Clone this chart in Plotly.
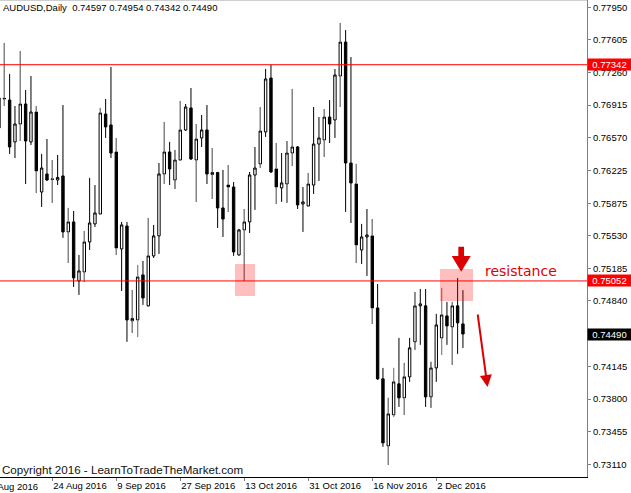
import plotly.graph_objects as go

# ---- data (daily AUDUSD bars, 10 Aug 2016 .. 9 Dec 2016, index 0 = 10 Aug) ----
OPEN = [0.76672, 0.76979, 0.76968, 0.76524, 0.76714, 0.76926, 0.76524, 0.76841, 0.75994, 0.76185,
        0.76127, 0.76121, 0.76164, 0.75571, 0.75677, 0.75052, 0.75147, 0.75465, 0.75656, 0.75761,
        0.76820, 0.76704, 0.76418, 0.75391, 0.75634, 0.74629, 0.74639, 0.75116, 0.74788, 0.75317,
        0.75529, 0.76185, 0.76418, 0.76121, 0.76333, 0.76651, 0.76884, 0.76333, 0.76566, 0.76651,
        0.76180, 0.76201, 0.75825, 0.76068, 0.76047, 0.75327, 0.75592, 0.75677, 0.76174, 0.76291,
        0.76630, 0.77201, 0.76238, 0.76037, 0.76079, 0.76407, 0.76471, 0.75867, 0.75846, 0.76068,
        0.76502, 0.76545, 0.76788, 0.76757, 0.77222, 0.77582, 0.76301, 0.76079, 0.75380, 0.75518,
        0.75529, 0.74766, 0.74015, 0.73305, 0.73634, 0.73962, 0.73814, 0.74036, 0.74407, 0.74788,
        0.74788, 0.73824, 0.74131, 0.74449, 0.74682, 0.74565, 0.74788, 0.74597]
HIGH = [0.77021, 0.77572, 0.77244, 0.76905, 0.77487, 0.77074, 0.77222, 0.76905, 0.76397, 0.76555,
        0.76333, 0.76386, 0.76915, 0.75825, 0.75793, 0.75327, 0.75581, 0.76143, 0.76068, 0.76884,
        0.76979, 0.77318, 0.76566, 0.75677, 0.75677, 0.74956, 0.75221, 0.75264, 0.75719, 0.75645,
        0.76301, 0.76735, 0.76524, 0.76439, 0.76958, 0.76926, 0.77095, 0.76714, 0.76810, 0.76915,
        0.76460, 0.76206, 0.76227, 0.76280, 0.76100, 0.75603, 0.75814, 0.76206, 0.76471, 0.76894,
        0.77297, 0.77342, 0.76513, 0.76407, 0.76534, 0.77085, 0.76481, 0.76047, 0.76195, 0.76894,
        0.76788, 0.76873, 0.76968, 0.77297, 0.77784, 0.77709, 0.77424, 0.76291, 0.75656, 0.75814,
        0.75708, 0.75020, 0.74131, 0.73814, 0.74131, 0.74449, 0.74184, 0.74449, 0.74935, 0.74967,
        0.74967, 0.74195, 0.74703, 0.74978, 0.74830, 0.74830, 0.75084, 0.74954]
LOW = [0.76651, 0.76905, 0.76397, 0.76354, 0.76534, 0.76079, 0.76492, 0.75984, 0.75836, 0.76111,
       0.75878, 0.76068, 0.75508, 0.75243, 0.74988, 0.74904, 0.75041, 0.75380, 0.75624, 0.75751,
       0.76566, 0.76354, 0.75327, 0.74946, 0.74407, 0.74502, 0.74460, 0.74798, 0.74777, 0.75295,
       0.75338, 0.76079, 0.76068, 0.76026, 0.76323, 0.76640, 0.76333, 0.75889, 0.76471, 0.76079,
       0.75920, 0.75613, 0.75518, 0.75783, 0.75317, 0.75320, 0.75052, 0.75560, 0.75804, 0.76248,
       0.76577, 0.76195, 0.75867, 0.75889, 0.75878, 0.76270, 0.75814, 0.75571, 0.75836, 0.75973,
       0.76111, 0.76365, 0.76513, 0.76566, 0.76894, 0.75783, 0.75666, 0.75243, 0.75232, 0.75105,
       0.74597, 0.74004, 0.73295, 0.73104, 0.73612, 0.73718, 0.73634, 0.73983, 0.74322, 0.74375,
       0.73718, 0.73708, 0.73983, 0.74269, 0.74375, 0.74163, 0.74279, 0.74342]
CLOSE = [0.76990, 0.76985, 0.76471, 0.76714, 0.76926, 0.76534, 0.76841, 0.76217, 0.76248, 0.76121,
         0.76132, 0.76148, 0.75571, 0.75677, 0.75084, 0.75158, 0.75465, 0.75666, 0.75772, 0.76831,
         0.76683, 0.76407, 0.75401, 0.75645, 0.74639, 0.74655, 0.75094, 0.74872, 0.75317, 0.75529,
         0.76185, 0.76418, 0.76238, 0.76333, 0.76651, 0.76894, 0.76344, 0.76555, 0.76651, 0.76185,
         0.76201, 0.75825, 0.75708, 0.76047, 0.75359, 0.75592, 0.75677, 0.76174, 0.76248, 0.76640,
         0.77191, 0.76206, 0.76047, 0.76090, 0.76407, 0.76471, 0.75857, 0.75889, 0.76079, 0.76502,
         0.76566, 0.76788, 0.76714, 0.77233, 0.77582, 0.76301, 0.76090, 0.75433, 0.75518, 0.75539,
         0.74766, 0.74015, 0.73337, 0.73644, 0.73983, 0.73814, 0.74036, 0.74343, 0.74788, 0.74809,
         0.73824, 0.74131, 0.74586, 0.74692, 0.74576, 0.74788, 0.74608, 0.74490]
BAR = list(range(len(OPEN)))

XTICK_POS = [10, 22, 34, 46, 58, 70, 82]
XTICK_LABELS = ["24 Aug 2016", "9 Sep 2016", "27 Sep 2016", "13 Oct 2016",
                "31 Oct 2016", "16 Nov 2016", "2 Dec 2016"]
FIRST_LABEL_POS = -2
FIRST_LABEL = "8 Aug 2016"

YTICK_VALS = [0.77950, 0.77605, 0.77260, 0.76915, 0.76570, 0.76225, 0.75875, 0.75530,
              0.75185, 0.74840, 0.74145, 0.73800, 0.73455, 0.73110]
LEVELS = [0.77342, 0.75052]
SYMBOL = "AUDUSD,Daily"
COPYRIGHT = "Copyright 2016 - LearnToTradeTheMarket.com"
NOTE = "resistance"

# ---- styling / geometry ----
W, H = 631, 493
ML, MR, MT, MB = 0, 44, 0, 16
PW, PH = W - ML - MR, H - MT - MB
XR = [0.194, 110.26]
YR = [0.729756, 0.780273]
FONT = "Liberation Sans, Arial, sans-serif"
RED = "#ff0000"
ARROW_RED = "#dd0000"
GRAY = "#9a9a9a"
GRAY_BARS = sorted(set(range(1, 74, 3)) | {0, 26, 33, 54, 74, 76, 78, 81, 83, 85})


def dx(px):
    return px * (XR[1] - XR[0]) / PW


def dy(px):
    return px * (YR[1] - YR[0]) / PH


def x_at(px):
    return XR[0] + dx(px)


def y_at(px):
    return YR[1] - dy(px)


fig = go.Figure()
fig.add_trace(go.Candlestick(
    x=BAR, open=OPEN, high=HIGH, low=LOW, close=CLOSE,
    increasing=dict(line=dict(color="black", width=1), fillcolor="white"),
    decreasing=dict(line=dict(color="black", width=1), fillcolor="black"),
    whiskerwidth=0, showlegend=False, hoverinfo="skip",
))

gx, gy = [], []
for j in GRAY_BARS:
    top = max(OPEN[j], CLOSE[j])
    bot = min(OPEN[j], CLOSE[j])
    gx += [j, j, None, j, j, None]
    gy += [HIGH[j], top, None, bot, LOW[j], None]
fig.add_trace(go.Scatter(x=gx, y=gy, mode="lines", line=dict(color=GRAY, width=1),
                         showlegend=False, hoverinfo="skip"))

shapes = []
for lv in LEVELS:
    shapes.append(dict(type="line", xref="paper", x0=0, x1=1, yref="y", y0=lv, y1=lv,
                       line=dict(color=RED, width=1)))
# top frame line
shapes.append(dict(type="line", xref="paper", yref="paper", x0=0, x1=1, y0=1, y1=1,
                   line=dict(color="#a0a0a0", width=1)))
# highlight zones
pink = "rgba(255,0,0,0.25)"
shapes.append(dict(type="rect", xref="x", yref="y", x0=x_at(235), x1=x_at(255),
                   y0=y_at(296), y1=y_at(264), fillcolor=pink, line=dict(width=0), layer="above"))
shapes.append(dict(type="rect", xref="x", yref="y", x0=x_at(440), x1=x_at(473),
                   y0=y_at(301), y1=y_at(269), fillcolor=pink, line=dict(width=0), layer="above"))
# thick down arrow
tx, ty = x_at(461.2), y_at(271.7)
hw, hl, sw, sl = 9.5, 15.7, 2.85, 25.0
path = (f"M {tx},{ty} L {tx - dx(hw)},{ty + dy(hl)} L {tx - dx(sw)},{ty + dy(hl)} "
        f"L {tx - dx(sw)},{ty + dy(sl)} L {tx + dx(sw)},{ty + dy(sl)} "
        f"L {tx + dx(sw)},{ty + dy(hl)} L {tx + dx(hw)},{ty + dy(hl)} Z")
shapes.append(dict(type="path", xref="x", yref="y", path=path, fillcolor=ARROW_RED,
                   line=dict(width=0), layer="above"))

ann = []
header = (SYMBOL + "\u00a0\u00a0" +
          " ".join(f"{v:.5f}" for v in (OPEN[-1], HIGH[-1], LOW[-1], CLOSE[-1])))
ann.append(dict(text=header, xref="paper", yref="paper", x=0.002, y=1 - 7.5 / PH,
                xanchor="left", yanchor="middle", showarrow=False,
                font=dict(family=FONT, size=9.5, color="black")))
ann.append(dict(text=COPYRIGHT, xref="paper", yref="paper", x=0.0, y=1 - 469 / PH,
                xanchor="left", yanchor="middle", showarrow=False,
                font=dict(family=FONT, size=11.6, color="#111111")))
ann.append(dict(text=NOTE, xref="x", yref="y", x=x_at(482.7), y=y_at(270.5),
                xanchor="left", yanchor="middle", showarrow=False,
                font=dict(family="DejaVu Sans", size=14, color="#e00000")))
ann.append(dict(text=FIRST_LABEL, xref="paper", yref="paper",
                x=(FIRST_LABEL_POS - XR[0]) / (XR[1] - XR[0]), y=-9.5 / PH,
                xanchor="left", yanchor="middle", showarrow=False,
                font=dict(family=FONT, size=9.5, color="black")))
# thin red arrow
ann.append(dict(text="", xref="x", yref="y", x=x_at(487.5), y=y_at(387), ax=-10, ay=-74,
                showarrow=True, arrowhead=2, arrowsize=1.2, arrowwidth=2, arrowcolor=ARROW_RED))
# price labels on the axis
for lv, bg in [(LEVELS[0], RED), (LEVELS[1], RED), (CLOSE[-1], "black")]:
    ann.append(dict(text=f"{lv:.5f}", xref="paper", yref="y", x=1.0, y=lv,
                    xanchor="left", yanchor="middle", showarrow=False, bgcolor=bg,
                    width=41, height=9, borderpad=1, align="center",
                    font=dict(family=FONT, size=9.5, color="white")))

fig.update_layout(
    width=W, height=H, margin=dict(l=ML, r=MR, t=MT, b=MB),
    paper_bgcolor="white", plot_bgcolor="white",
    boxgap=0.55, boxgroupgap=0, hovermode=False,
    shapes=shapes, annotations=ann, showlegend=False,
    xaxis=dict(range=XR, tickmode="array", tickvals=XTICK_POS, ticktext=XTICK_LABELS,
               ticks="outside", ticklen=3, tickcolor="#808080", showline=True,
               linecolor="black", linewidth=1, showgrid=False, zeroline=False,
               rangeslider=dict(visible=False), ticklabelposition="outside right",
               tickfont=dict(family=FONT, size=9.5, color="black")),
    yaxis=dict(range=YR, side="right", tickmode="array", tickvals=YTICK_VALS,
               ticktext=[f"{v:.5f}" for v in YTICK_VALS], ticks="outside", ticklen=3,
               tickcolor="#808080", showline=True, linecolor="#808080", linewidth=1,
               showgrid=False, zeroline=False,
               tickfont=dict(family=FONT, size=9.5, color="black")),
)

fig.write_html("out.html", config={"displayModeBar": False},
               post_script="document.body.style.margin='0';document.body.style.overflow='hidden';")
